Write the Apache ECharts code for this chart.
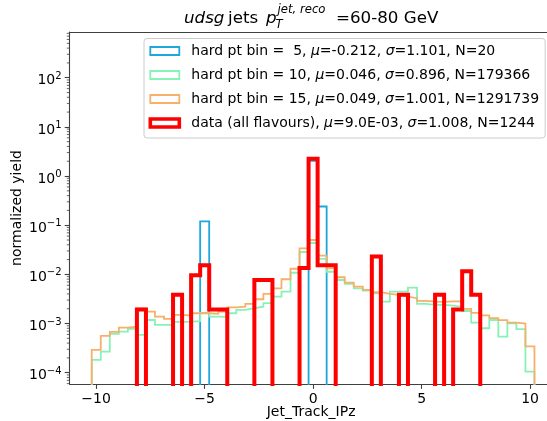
<!DOCTYPE html>
<html>
<head>
<meta charset="utf-8">
<script src="https://cdn.jsdelivr.net/npm/echarts@6/dist/echarts.min.js"></script>
<style>
  html, body { margin: 0; padding: 0; background: #fff; }
  #chart { width: 547px; height: 421px; }
</style>
</head>
<body>
<div id="chart"></div>
<script>
// Binning shared by all histograms: 49 equal-width bins on [-10.2, 10.2]
const binLow = -10.2;
const binHigh = 10.2;
const binCount = 49;

// Normalised yield per bin (density), left to right
const hardPtBin5 = [
  0, 0, 0, 0, 0, 0, 0, 0, 0, 0, 0, 0, 0.120, 0, 0, 0, 0, 0, 0, 0, 0, 0, 0, 0,
  2.04, 0.240, 0, 0, 0, 0, 0, 0, 0, 0, 0, 0, 0, 0, 0, 0, 0, 0, 0, 0, 0, 0, 0, 0, 0
];
const hardPtBin10 = [
  1.82e-4, 2.69e-4, 6.15e-4, 6.85e-4, 7.77e-4, 5.86e-4, 1.18e-3, 9.37e-4, 9.37e-4, 1.08e-3,
  1.09e-3, 1.12e-3, 1.64e-3, 1.38e-3, 1.37e-3, 1.62e-3, 1.89e-3, 2.05e-3, 2.20e-3, 2.59e-3,
  3.52e-3, 4.45e-3, 1.08e-2, 2.85e-2, 4.35e-2, 2.06e-2, 1.13e-2, 7.69e-3, 6.38e-3, 5.21e-3,
  4.66e-3, 4.13e-3, 2.79e-3, 4.45e-3, 4.45e-3, 5.37e-3, 2.50e-3, 2.39e-3, 2.39e-3, 2.31e-3,
  2.20e-3, 1.80e-3, 1.04e-3, 8.02e-4, 1.18e-3, 5.42e-4, 1.01e-3, 7.66e-4, 1.05e-4
];
const hardPtBin15 = [
  2.90e-4, 5.60e-4, 6.75e-4, 8.26e-4, 8.65e-4, 2.03e-3, 1.75e-3, 1.38e-3, 1.24e-3, 1.50e-3,
  1.45e-3, 1.62e-3, 1.62e-3, 1.57e-3, 1.75e-3, 2.14e-3, 2.20e-3, 2.50e-3, 3.12e-3, 4.00e-3,
  5.21e-3, 7.95e-3, 1.30e-2, 3.39e-2, 5.00e-2, 2.40e-2, 1.33e-2, 8.73e-3, 6.78e-3, 5.62e-3,
  4.82e-3, 4.33e-3, 4.00e-3, 3.81e-3, 3.52e-3, 3.27e-3, 2.88e-3, 2.79e-3, 2.75e-3, 2.81e-3,
  2.83e-3, 1.98e-3, 1.64e-3, 1.47e-3, 1.29e-3, 1.17e-3, 1.04e-3, 9.95e-4, 3.44e-4
];
const dataAllFlavours = [
  0, 0, 0, 0, 0, 1.93e-3, 0, 0, 0, 3.86e-3, 0, 9.65e-3, 1.54e-2, 1.93e-3, 1.93e-3, 0, 0, 0,
  7.72e-3, 7.72e-3, 0, 0, 0, 1.35e-2, 2.26, 1.54e-2, 1.54e-2, 0, 0, 0, 0, 2.32e-2, 0, 0,
  3.86e-3, 0, 0, 0, 3.86e-3, 0, 1.93e-3, 1.16e-2, 3.86e-3, 0, 0, 0, 0, 0, 0
];

const seriesNames = [
  'hard pt bin =  5, μ=-0.212, σ=1.101, N=20',
  'hard pt bin = 10, μ=0.046, σ=0.896, N=179366',
  'hard pt bin = 15, μ=0.049, σ=1.001, N=1291739',
  'data (all flavours), μ=9.0E-03, σ=1.008, N=1244'
];
const seriesColors = ['#1ea7dc', '#86f2b6', '#f6b06a', '#ff0000'];
const seriesWidths = [1.8, 1.8, 1.8, 4];

const xTicks = [-10, -5, 0, 5, 10];
const yTicks = [1e-4, 1e-3, 1e-2, 1e-1, 1, 10, 100];

const FONT = 'DejaVu Sans';
const AXIS_COLOR = '#404040';
const xMin = -11.22, xMax = 11.22;
const yMin = Math.pow(10, -4.23), yMax = Math.pow(10, 2.93);

// Empty bins fall far below the visible range on the log axis
const EMPTY = 1e-12;

// Outline of a step histogram: edges paired with bin contents
function histogramOutline(values) {
  const width = (binHigh - binLow) / binCount;
  const pts = [[binLow, EMPTY]];
  values.forEach(function (v, i) {
    pts.push([binLow + i * width, v > 0 ? v : EMPTY]);
  });
  pts.push([binHigh, EMPTY]);
  return pts;
}

// Minor log ticks at 2..9 x 10^n inside the visible range
const minorTickValues = [];
for (let e = -5; e <= 3; e++) {
  for (let k = 2; k <= 9; k++) {
    const v = k * Math.pow(10, e);
    if (v > yMin && v < yMax) minorTickValues.push(v);
  }
}

function minusSign(v) { return String(v).replace('-', '\u2212'); }

const histValues = [hardPtBin5, hardPtBin10, hardPtBin15, dataAllFlavours];

const series = histValues.map(function (vals, i) {
  return {
    name: seriesNames[i],
    type: 'line',
    step: 'end',
    symbol: 'none',
    clip: true,
    animation: false,
    data: histogramOutline(vals),
    lineStyle: { color: seriesColors[i], width: seriesWidths[i], join: 'miter' },
    itemStyle: { color: seriesColors[i] },
    z: 2 + i
  };
});

series.push({
  type: 'custom',
  name: 'minor-ticks',
  silent: true,
  animation: false,
  data: minorTickValues.map(function (v) { return [xMin, v]; }),
  renderItem: function (params, api) {
    const p = api.coord([api.value(0), api.value(1)]);
    return {
      type: 'line',
      shape: { x1: p[0] - 2.8, y1: p[1], x2: p[0], y2: p[1] },
      style: { stroke: AXIS_COLOR, lineWidth: 0.8 }
    };
  },
  z: 1
});

const chart = echarts.init(document.getElementById('chart'), null, { renderer: 'canvas' });

chart.setOption({
  animation: false,
  backgroundColor: '#fff',
  textStyle: { fontFamily: FONT },
  grid: { left: 69.6, top: 32, width: 487, height: 352, containLabel: false, outerBoundsMode: 'none' },
  xAxis: [{
    type: 'value',
    min: xMin,
    max: xMax,
    position: 'bottom',
    name: 'Jet_Track_IPz',
    nameLocation: 'middle',
    nameGap: 21,
    nameMoveOverlap: false,
    nameTextStyle: { fontFamily: FONT, fontSize: 14, color: '#000', padding: [0, 4, 0, 0], verticalAlign: 'top' },
    axisLine: { show: true, onZero: false, lineStyle: { color: AXIS_COLOR, width: 1.1 } },
    axisTick: { show: true, customValues: xTicks, length: 4.9, lineStyle: { color: AXIS_COLOR, width: 1.1 } },
    axisLabel: { customValues: xTicks, formatter: minusSign, margin: 8, fontFamily: FONT, fontSize: 14, color: '#000' },
    splitLine: { show: false }
  }, {
    type: 'value',
    min: xMin,
    max: xMax,
    position: 'top',
    axisLine: { show: true, onZero: false, lineStyle: { color: AXIS_COLOR, width: 1.1 } },
    axisTick: { show: false },
    axisLabel: { show: false },
    splitLine: { show: false }
  }],
  yAxis: [{
    type: 'log',
    logBase: 10,
    min: yMin,
    max: yMax,
    name: 'normalized yield',
    nameLocation: 'middle',
    nameGap: 45,
    nameMoveOverlap: false,
    nameTextStyle: { fontFamily: FONT, fontSize: 14, color: '#000' },
    axisLine: { show: true, onZero: false, lineStyle: { color: AXIS_COLOR, width: 1.1 } },
    axisTick: { show: true, customValues: yTicks, length: 4.9, lineStyle: { color: AXIS_COLOR, width: 1.1 } },
    axisLabel: {
      customValues: yTicks,
      margin: 8,
      padding: [6, 0, 0, 0],
      formatter: function (v) {
        const e = Math.round(Math.log10(v));
        return '{b|10}{s|' + minusSign(e) + '}';
      },
      rich: {
        b: { fontFamily: FONT, fontSize: 14, color: '#000' },
        s: { fontFamily: FONT, fontSize: 10, color: '#000', verticalAlign: 'bottom', padding: [0, 0, 9, 0] }
      }
    },
    splitLine: { show: false },
    minorTick: { show: false }
  }],
  legend: {
    orient: 'vertical',
    left: 144,
    top: 38.5,
    padding: [4.5, 6, 7, 4.5],
    itemWidth: 29,
    itemHeight: 8,
    itemGap: 8,
    selectedMode: false,
    backgroundColor: 'rgba(255,255,255,0.8)',
    borderColor: '#cccccc',
    borderWidth: 1,
    borderRadius: 3,
    data: seriesNames.map(function (n, i) {
      return {
        name: n,
        icon: 'rect',
        itemStyle: { color: 'rgba(0,0,0,0)', borderColor: seriesColors[i], borderWidth: i === 3 ? 3.6 : 1.8 }
      };
    }),
    formatter: function (name) {
      return name.replace(/μ/g, '{i|μ}').replace(/σ/g, '{i|σ}');
    },
    textStyle: {
      fontFamily: FONT, fontSize: 14, color: '#000', lineHeight: 16, padding: [0, 0, 0, 7],
      rich: { i: { fontFamily: FONT, fontSize: 14, fontStyle: 'italic', color: '#000', lineHeight: 16 } }
    }
  },
  graphic: [
    { type: 'text', x: 184, y: 18.5, style: { text: 'udsg', fontFamily: FONT, fontSize: 16.7, fontStyle: 'italic', fill: '#000', verticalAlign: 'middle' } },
    { type: 'text', x: 228, y: 18.5, style: { text: 'jets', fontFamily: FONT, fontSize: 16.7, fill: '#000', verticalAlign: 'middle' } },
    { type: 'text', x: 266, y: 18.5, style: { text: 'p', fontFamily: FONT, fontSize: 16.7, fontStyle: 'italic', fill: '#000', verticalAlign: 'middle' } },
    { type: 'text', x: 277.5, y: 10, style: { text: 'jet, reco', fontFamily: FONT, fontSize: 11.7, fontStyle: 'italic', fill: '#000', verticalAlign: 'middle' } },
    { type: 'text', x: 275.5, y: 24.5, style: { text: 'T', fontFamily: FONT, fontSize: 11.7, fontStyle: 'italic', fill: '#000', verticalAlign: 'middle' } },
    { type: 'text', x: 336, y: 18.5, style: { text: '=60-80 GeV', fontFamily: FONT, fontSize: 16.7, fill: '#000', verticalAlign: 'middle' } }
  ],
  series: series
});
</script>
</body>
</html>
